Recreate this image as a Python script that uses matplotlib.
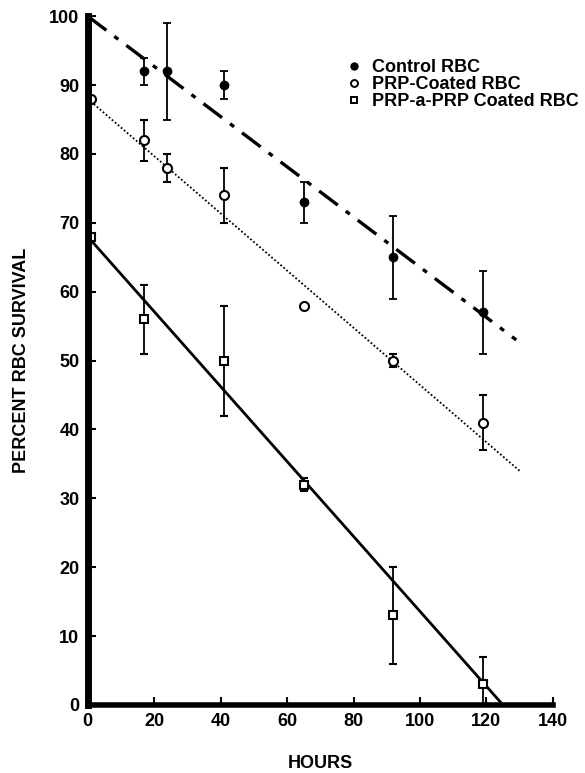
import numpy as np
import matplotlib.pyplot as plt
from matplotlib.lines import Line2D

plt.rcParams['font.family'] = ['Liberation Sans', 'DejaVu Sans']
plt.rcParams['font.weight'] = 'bold'

# measured points (hours, % survival, error)
control_x = [17, 24, 41, 65, 92, 119]
control_y = [92, 92, 90, 73, 65, 57]
control_err = [2, 7, 2, 3, 6, 6]

prp_x = [1, 17, 24, 41, 65, 92, 119]
prp_y = [88, 82, 78, 74, 58, 50, 41]
prp_err = [0, 3, 2, 4, 0, 1, 4]

aprp_x = [1, 17, 41, 65, 92, 119]
aprp_y = [68, 56, 50, 32, 13, 3]
aprp_err = [0, 5, 8, 1, 7, 4]

# fitted lines (start, end)
control_fit_x = [0, 129]
control_fit_y = [100, 53]
prp_fit_x = [0, 130]
prp_fit_y = [88, 34]
aprp_fit_x = [0, 125]
aprp_fit_y = [68, 0]

legend_labels = ["Control RBC", "PRP-Coated RBC", "PRP-a-PRP Coated RBC"]

fig = plt.figure(figsize=(5.85, 7.73), dpi=100)
ax = fig.add_axes([0.150, 0.088, 0.795, 0.891])

ax.plot(control_fit_x, control_fit_y, color="black", lw=2.4,
        dashes=(7, 3, 1.5, 3), solid_capstyle="butt")
ax.plot(prp_fit_x, prp_fit_y, color="black", lw=1.3, linestyle=(0, (1, 1.2)))
ax.plot(aprp_fit_x, aprp_fit_y, color="black", lw=2.0)

eb_kw = dict(color="black", ecolor="black", elinewidth=1.3, capsize=3,
             capthick=1.3, linestyle="none", clip_on=False)
ax.errorbar(control_x, control_y, yerr=control_err, marker="o", ms=6,
            mfc="black", mec="black", **eb_kw)
ax.errorbar(prp_x, prp_y, yerr=prp_err, marker="o", ms=6.5,
            mfc="white", mec="black", mew=1.5, **eb_kw)
err_lo = [min(e, y) for e, y in zip(aprp_err, aprp_y)]
ax.errorbar(aprp_x, aprp_y, yerr=[err_lo, aprp_err], marker="s", ms=6,
            mfc="white", mec="black", mew=1.5, **eb_kw)

ax.set_xlim(0, 140)
ax.set_ylim(0, 100)
ax.set_xticks(np.arange(0, 141, 20))
ax.set_yticks(np.arange(0, 101, 10))
ax.tick_params(direction="in", length=6, width=1.5, labelsize=13, pad=6)
for lab in ax.get_xticklabels() + ax.get_yticklabels():
    lab.set_fontweight("bold")

for s in ["top", "right"]:
    ax.spines[s].set_visible(False)
ax.spines["left"].set_linewidth(5)
ax.spines["bottom"].set_linewidth(4)

ax.set_xlabel("HOURS", fontsize=13, fontweight="bold", labelpad=18)
ax.set_ylabel("PERCENT RBC SURVIVAL", fontsize=13, fontweight="bold", labelpad=14)

handles = [
    Line2D([], [], marker="o", ls="none", ms=5, mfc="black", mec="black"),
    Line2D([], [], marker="o", ls="none", ms=5, mfc="white", mec="black", mew=1.4),
    Line2D([], [], marker="s", ls="none", ms=5, mfc="white", mec="black", mew=1.4),
]
ax.legend(handles, legend_labels, loc="upper left", bbox_to_anchor=(0.545, 0.948),
          frameon=False, handlelength=0.6, handletextpad=0.7, labelspacing=0.0,
          borderaxespad=0, prop={"weight": "bold", "size": 13})

fig.savefig("out.png", dpi=100)
